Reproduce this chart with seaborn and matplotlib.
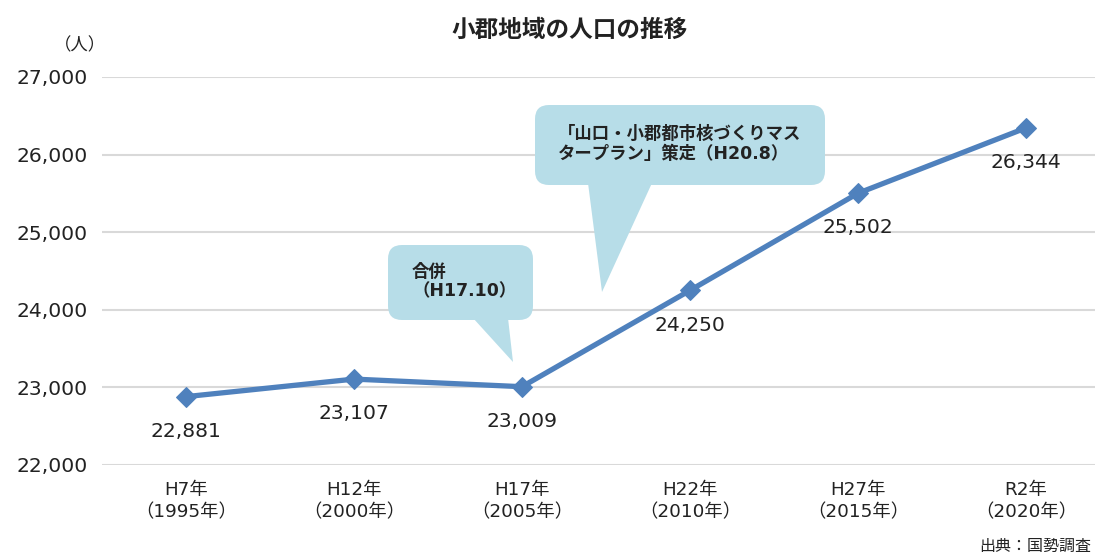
import matplotlib
matplotlib.use("Agg")
import matplotlib.pyplot as plt
import matplotlib.transforms as mtransforms
import seaborn as sns
import pandas as pd
from matplotlib.patches import FancyBboxPatch, Polygon

categories = ["H7年\n（1995年）", "H12年\n（2000年）", "H17年\n（2005年）",
              "H22年\n（2010年）", "H27年\n（2015年）", "R2年\n（2020年）"]
population = [22881, 23107, 23009, 24250, 25502, 26344]
y_ticks = [22000, 23000, 24000, 25000, 26000, 27000]

sns.set_theme(style="white")
plt.rcParams['font.family'] = ['Noto Sans CJK JP', 'DejaVu Sans']
LATIN = ['DejaVu Sans', 'Noto Sans CJK JP']

W, H = 1097, 556
fig = plt.figure(figsize=(W / 100, H / 100), dpi=100)
ax = fig.add_axes([102 / W, 1 - 465 / H, (1095 - 102) / W, (465 - 77) / H])

df = pd.DataFrame({"x": range(len(categories)), "pop": population})
sns.lineplot(data=df, x="x", y="pop", ax=ax, color="#4f81bd", linewidth=3.8,
             marker="D", markersize=10, markeredgecolor="#4f81bd", zorder=5)

ax.set_xlim(-0.5, -0.5 + (1095 - 102) / 168)
ax.set_ylim(22000, 27000)
ax.set_yticks(y_ticks)
ax.set_yticklabels([f"{v:,}" for v in y_ticks], fontsize=14.6, color="#222222",
                   family=LATIN)
ax.set_xticks(range(len(categories)))
ax.set_xticklabels(categories, fontsize=13.2, color="#222222", linespacing=1.28,
                   family=LATIN)
ax.tick_params(axis="y", pad=10.5, length=0)
ax.tick_params(axis="x", pad=11.5, length=0)
ax.set_xlabel("")
ax.set_ylabel("")
ax.grid(axis="y", color="#d9d9d9", linewidth=1.5)
ax.set_axisbelow(True)
for s in ax.spines.values():
    s.set_visible(False)

for i, v in enumerate(population):
    ax.annotate(f"{v:,}", (i, v), xytext=(0, -25), textcoords="offset points",
                ha="center", va="center", fontsize=14.6, color="#222222", family=LATIN)

# callouts (pixel coordinates, y measured from top)
pix = mtransforms.IdentityTransform()
callout_color = "#b7dde8"


def callout(x0, y0, x1, y1, tail, text, tx, ty):
    box = FancyBboxPatch((x0, H - y1), x1 - x0, y1 - y0,
                         boxstyle="round,pad=0,rounding_size=14",
                         transform=pix, facecolor=callout_color,
                         edgecolor="none", zorder=3)
    fig.add_artist(box)
    poly = Polygon([(x, H - y) for x, y in tail], closed=True, transform=pix,
                   facecolor=callout_color, edgecolor="none", zorder=3)
    fig.add_artist(poly)
    fig.text(tx / W, 1 - ty / H, text, fontsize=12.5, fontweight="bold", color="#222222",
             ha="left", va="center", linespacing=1.1, zorder=4, family=LATIN)


callout(388, 245, 533, 320, [(473, 318), (508, 318), (513, 362)],
        "合併\n（H17.10）", 412, 282)
callout(535, 105, 825, 185, [(588, 183), (652, 183), (602, 292)],
        "「山口・小郡都市核づくりマス\nタープラン」策定（H20.8）", 558, 144)

fig.text(570 / W, 1 - 30 / H, "小郡地域の人口の推移", fontsize=17, fontweight="bold",
         ha="center", va="center", color="#222222")
fig.text(80 / W, 1 - 45 / H, "（人）", fontsize=12.5, ha="center", va="center", color="#222222")
fig.text(1035 / W, 1 - 546 / H, "出典：国勢調査", fontsize=11.5, ha="center", va="center",
         color="#222222")

fig.savefig("out.png", dpi=100)
